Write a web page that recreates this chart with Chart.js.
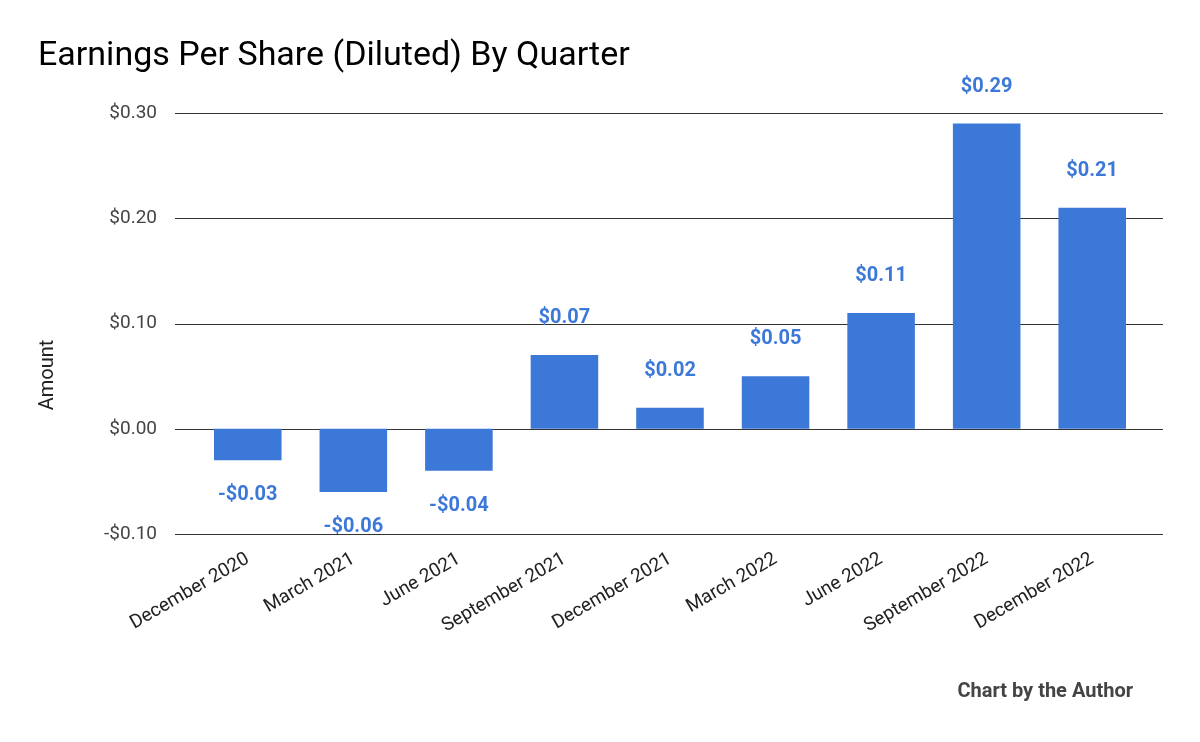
<!DOCTYPE html>
<html><head><meta charset="utf-8">
<script src="https://cdn.jsdelivr.net/npm/chart.js@4/dist/chart.umd.min.js"></script>
<style>html,body{margin:0;padding:0;background:#fff}#w{width:1200px;height:742px}</style>
</head><body><div id="w"><canvas id="c"></canvas></div>
<script>
const categories=["December 2020","March 2021","June 2021","September 2021","December 2021","March 2022","June 2022","September 2022","December 2022"];
const eps=[-0.03,-0.06,-0.04,0.07,0.02,0.05,0.11,0.29,0.21];
const yTicks=[-0.1,0,0.1,0.2,0.3];
const fmt=v=>(v<0?"-$":"$")+Math.abs(v).toFixed(2);
const extras={id:'extras',
 beforeDatasetsDraw(ch){const c=ch.ctx,y=ch.scales.y;c.save();c.strokeStyle='#333';c.lineWidth=1;
  yTicks.forEach(t=>{const p=Math.round(y.getPixelForValue(t))+0.5;c.beginPath();c.moveTo(175,p);c.lineTo(1163,p);c.stroke();});c.restore();},
 afterDatasetsDraw(ch){const c=ch.ctx;c.save();c.font='bold 20px Roboto';c.fillStyle='#3c78d8';c.textAlign='center';c.textBaseline='middle';
  ch.getDatasetMeta(0).data.forEach((b,i)=>{const v=eps[i];c.fillText(fmt(v),b.x,v>=0?b.y-37:b.y+35);});
  c.fillStyle='#000';c.font='34px Roboto';c.textAlign='left';c.fillText('Earnings Per Share (Diluted) By Quarter',38,56);
  c.font='bold 20px Roboto';c.fillStyle='#444';c.textAlign='right';c.fillText('Chart by the Author',1133,692);
  c.translate(48,375);c.rotate(-Math.PI/2);c.textAlign='center';c.font='20px Roboto';c.fillStyle='#222';c.fillText('Amount',0,0);
  c.restore();}};
new Chart(document.getElementById('c'),{type:'bar',
 data:{labels:categories,datasets:[{data:eps,backgroundColor:'#3c78d8',barPercentage:0.64,categoryPercentage:1}]},
 options:{responsive:true,maintainAspectRatio:false,animation:false,devicePixelRatio:1,
  layout:{padding:{top:113,right:55,left:0,bottom:0}},
  plugins:{legend:{display:false},tooltip:{enabled:false}},
  scales:{
   y:{min:-0.1,max:0.3,afterFit:s=>{s.width=195;},afterBuildTicks:s=>{s.ticks=yTicks.map(v=>({value:v}));},
      grid:{display:false},border:{display:false},
      ticks:{padding:30,color:'#444',font:{family:'Roboto',size:19},callback:v=>fmt(v)}},
   x:{afterFit:s=>{s.height=208;},grid:{display:false},border:{display:false},
      ticks:{color:'#222',font:{family:'Roboto',size:19},maxRotation:30,minRotation:30,padding:6}}}},
 plugins:[extras]});
</script></body></html>
